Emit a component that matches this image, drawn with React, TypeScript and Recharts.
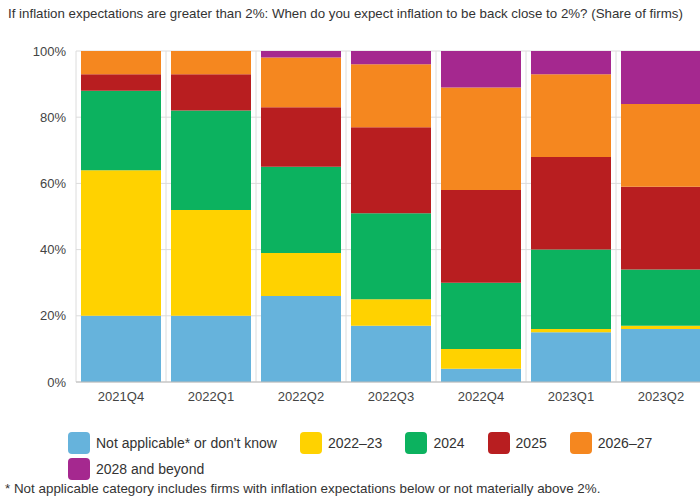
import React from 'react';
import { BarChart, Bar, XAxis, YAxis, CartesianGrid } from 'recharts';

const categories = ['2021Q4', '2022Q1', '2022Q2', '2022Q3', '2022Q4', '2023Q1', '2023Q2'];
const notApplicable = [20, 20, 26, 17, 4, 15, 16];
const y2022to23 = [44, 32, 13, 8, 6, 1, 1];
const y2024 = [24, 30, 26, 26, 20, 24, 17];
const y2025 = [5, 11, 18, 26, 28, 28, 25];
const y2026to27 = [7, 7, 15, 19, 31, 25, 25];
const y2028plus = [0, 0, 2, 4, 11, 7, 16];
const yTicks = [0, 20, 40, 60, 80, 100];

const series = [
  { key: 'na', name: "Not applicable* or don't know", values: notApplicable, color: '#66b3dc' },
  { key: 'y2223', name: '2022–23', values: y2022to23, color: '#ffd200' },
  { key: 'y24', name: '2024', values: y2024, color: '#0cb25f' },
  { key: 'y25', name: '2025', values: y2025, color: '#b81e20' },
  { key: 'y2627', name: '2026–27', values: y2026to27, color: '#f5871f' },
  { key: 'y28', name: '2028 and beyond', values: y2028plus, color: '#a5288f' },
];

const data = categories.map((c, i) => {
  const row: Record<string, string | number> = { cat: c };
  series.forEach((s) => {
    row[s.key] = s.values[i];
  });
  return row;
});

const FONT = '"Liberation Sans", Arial, Helvetica, sans-serif';

export default function App() {
  return (
    <div
      style={{
        position: 'fixed',
        left: 0,
        top: 0,
        width: 700,
        height: 497,
        overflow: 'hidden',
        background: '#fff',
        fontFamily: FONT,
      }}
    >
      <div
        style={{
          position: 'absolute',
          left: 8,
          top: 6,
          fontSize: 13.3,
          lineHeight: '16px',
          color: '#333',
          whiteSpace: 'nowrap',
        }}
      >
        If inflation expectations are greater than 2%: When do you expect inflation to be back close to 2%? (Share of firms)
      </div>
      <div style={{ position: 'absolute', left: 0, top: 0 }}>
        <BarChart
          width={720}
          height={420}
          data={data}
          margin={{ top: 51, right: 14, bottom: 0, left: 0 }}
          barSize={80}
        >
          <CartesianGrid
            stroke="#dcdcdc"
            verticalCoordinatesGenerator={({ offset }: any) =>
              Array.from({ length: categories.length + 1 }, (_, i) => offset.left + (i * offset.width) / categories.length)
            }
          />
          <XAxis
            dataKey="cat"
            height={38}
            tickLine={false}
            tickSize={0}
            tickMargin={10}
            axisLine={{ stroke: '#bbb' }}
            tick={{ fill: '#444', fontSize: 13, fontFamily: FONT }}
            interval={0}
          />
          <YAxis
            width={76}
            domain={[0, 100]}
            ticks={yTicks}
            tickFormatter={(v: number) => `${v}%`}
            axisLine={false}
            tickLine={false}
            tickSize={0}
            tickMargin={10}
            tick={{ fill: '#444', fontSize: 13, fontFamily: FONT }}
          />
          {series.map((s) => (
            <Bar key={s.key} dataKey={s.key} name={s.name} stackId="a" fill={s.color} isAnimationActive={false} />
          ))}
        </BarChart>
      </div>
      <div
        style={{
          position: 'absolute',
          left: 68,
          top: 432,
          width: 620,
          display: 'flex',
          flexWrap: 'wrap',
          rowGap: 4,
          columnGap: 23,
        }}
      >
        {series.map((s) => (
          <div key={s.key} style={{ display: 'flex', alignItems: 'center', height: 22 }}>
            <div style={{ width: 22, height: 22, borderRadius: 4, background: s.color, marginRight: 6 }} />
            <span style={{ fontSize: 14, color: '#333', whiteSpace: 'nowrap' }}>{s.name}</span>
          </div>
        ))}
      </div>
      <div
        style={{
          position: 'absolute',
          left: 5,
          top: 482,
          fontSize: 13.4,
          lineHeight: '14px',
          color: '#333',
          whiteSpace: 'nowrap',
        }}
      >
        * Not applicable category includes firms with inflation expectations below or not materially above 2%.
      </div>
    </div>
  );
}
